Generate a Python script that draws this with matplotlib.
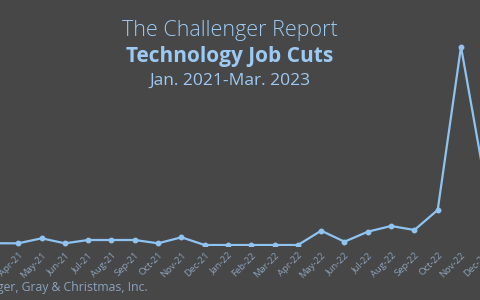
import matplotlib
matplotlib.use("Agg")
import matplotlib.pyplot as plt

months = ["Jan-21", "Feb-21", "Mar-21", "Apr-21", "May-21", "Jun-21", "Jul-21", "Aug-21",
          "Sep-21", "Oct-21", "Nov-21", "Dec-21", "Jan-22", "Feb-22", "Mar-22", "Apr-22",
          "May-22", "Jun-22", "Jul-22", "Aug-22", "Sep-22", "Oct-22", "Nov-22", "Dec-22",
          "Jan-23", "Feb-23", "Mar-23"]
job_cuts = [1500, 1000, 800, 790, 2115, 790, 1665, 1665,
            1665, 790, 2380, 340, 340, 340, 340, 340,
            4125, 1215, 3860, 5370, 4310, 9600, 52770, 18000,
            41800, 21400, 38000]

title1 = "The Challenger Report"
title2 = "Technology Job Cuts"
title3 = "Jan. 2021-Mar. 2023"
source = "Source: Challenger, Gray & Christmas, Inc."

BG = "#474747"
LINE = "#8fc3f0"
TITLE_C = "#9ccaf3"
TICK_C = "#8aa3bd"

W, H = 480, 300
fig = plt.figure(figsize=(4.8, 3.0), dpi=100, facecolor=BG)

px_per = 23.3
x_first = 18.3 - 3 * px_per
left_px = x_first - px_per
y0_px = 246.3
scale = 0.003782
ymax = 60000
ax = fig.add_axes([left_px / W, (H - y0_px) / H, 28 * px_per / W, ymax * scale / H])
ax.set_facecolor(BG)
x = list(range(len(months)))
ax.plot(x, job_cuts, color=LINE, lw=1.6, marker="o", ms=3.2, mfc=LINE, mec=LINE)
ax.set_xlim(-1, 27)
ax.set_ylim(0, ymax)
ax.set_xticks(x)
ax.set_xticklabels(months, rotation=45, ha="right", rotation_mode="anchor",
                   fontsize=6.8, color=TICK_C, family="Open Sans")
ax.tick_params(axis="x", length=0, pad=3)
ax.set_yticks([])
for s in ax.spines.values():
    s.set_visible(False)

fig.text(230 / W, 1 - 36 / H, title1, ha="center", va="baseline", fontsize=15.5,
         color=TITLE_C, family="Open Sans", fontweight="light")
fig.text(230 / W, 1 - 62 / H, title2, ha="center", va="baseline", fontsize=15,
         color=TITLE_C, family="Open Sans", fontweight="bold")
fig.text(230 / W, 1 - 85 / H, title3, ha="center", va="baseline", fontsize=12.5,
         color=TITLE_C, family="Open Sans")
fig.text(148 / W, 1 - 291 / H, source, ha="right", va="baseline", fontsize=8.8,
         color=TICK_C, family="Open Sans")

fig.savefig("out.png", dpi=100, facecolor=BG)
